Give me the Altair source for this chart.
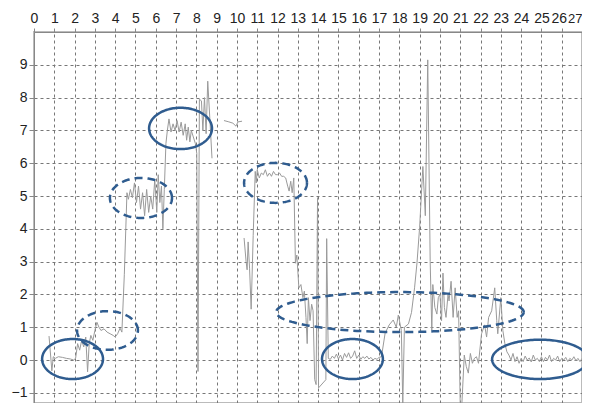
import altair as alt
import pandas as pd
import numpy as np

# ---- signal (x, y) ----
seg_a = [(0.74, 0.73), (0.88, -0.33), (0.95, 0.1), (1.05, 0.05), (1.2, 0.1), (1.4, 0.08),
         (1.6, 0.05), (1.8, 0.03), (1.95, 0.0), (2.05, 0.05), (2.15, 0.5), (2.25, 0.3),
         (2.35, 0.6), (2.45, 0.4), (2.55, 0.7), (2.64, -0.36), (2.72, 0.5), (2.8, 0.75),
         (2.9, 0.6), (3.0, 0.9), (3.1, 1.15), (3.2, 1.0), (3.3, 0.9), (3.45, 0.95),
         (3.6, 0.85), (3.75, 0.8), (3.9, 0.75), (4.0, 0.7), (4.12, 0.8), (4.24, 0.97),
         (4.33, 0.85), (4.45, 2.6), (4.58, 5.1), (4.65, 4.9), (4.75, 5.2), (4.85, 4.95),
         (4.95, 5.4), (5.05, 4.8), (5.15, 5.3), (5.25, 4.6), (5.35, 5.1), (5.45, 4.4),
         (5.55, 5.2), (5.65, 4.5), (5.75, 5.0), (5.85, 4.6), (5.95, 5.5), (6.05, 4.5),
         (6.12, 5.65), (6.2, 4.8), (6.28, 5.3), (6.35, 4.0), (6.42, 5.2), (6.5, 6.6),
         (6.57, 7.0), (6.65, 7.35), (6.75, 6.95), (6.85, 7.2), (6.95, 7.0), (7.05, 7.3),
         (7.15, 6.95), (7.25, 7.25), (7.35, 6.85), (7.45, 7.2), (7.52, 6.7), (7.6, 7.1),
         (7.68, 6.65), (7.75, 7.0), (7.85, 6.8), (7.95, 6.6), (8.02, 6.3), (8.08, -0.35),
         (8.15, 7.95), (8.25, 7.9), (8.32, 7.0), (8.4, 8.0), (8.48, 6.9), (8.56, 8.5),
         (8.65, 7.5), (8.77, 6.15)]

seg_b = [(9.36, 7.3), (9.6, 7.26), (9.8, 7.22), (9.95, 7.13), (10.05, 7.26), (10.25, 7.28)]

seg_c = [(10.35, 3.72), (10.45, 3.0), (10.5, 2.75), (10.55, 3.6), (10.62, 2.8), (10.7, 1.55),
         (10.8, 3.8), (10.9, 5.75), (10.95, 5.4), (11.0, 5.8), (11.1, 5.55), (11.2, 5.7),
         (11.3, 5.65), (11.4, 5.8), (11.5, 5.6), (11.6, 5.7), (11.7, 5.6), (11.8, 5.75),
         (11.9, 5.65), (12.0, 5.65), (12.1, 5.7), (12.2, 5.6), (12.3, 5.6), (12.4, 5.55),
         (12.5, 5.3), (12.57, 5.15), (12.65, 5.45), (12.72, 5.1), (12.8, 5.55), (12.88, 2.95),
         (12.95, 3.2), (13.05, 2.2), (13.15, 2.3), (13.25, 1.9), (13.32, 2.1), (13.4, 1.3),
         (13.46, 0.5), (13.52, 1.9), (13.6, 1.2), (13.68, 1.7), (13.75, 1.5), (13.83, -0.6),
         (13.9, -0.75), (13.97, 4.95), (14.02, -0.85), (14.38, -0.6), (14.42, 3.7), (14.5, 0.05),
         (14.6, 0.02), (14.7, 0.12), (14.8, 0.05), (14.9, 0.18), (15.0, 0.03), (15.1, 0.15),
         (15.2, 0.0), (15.3, 0.2), (15.4, 0.08), (15.5, 0.22), (15.6, 0.05), (15.7, 0.12),
         (15.8, 0.28), (15.9, 0.05), (16.0, 0.15), (16.1, 0.02), (16.2, 0.1), (16.3, 0.05),
         (16.4, 0.12), (16.5, 0.03), (16.6, 0.08), (16.7, 0.0), (16.8, 0.05), (16.9, 0.02),
         (17.0, 0.08), (17.12, 0.1), (17.3, 0.82), (17.5, 1.07), (17.7, 1.22), (17.85, 1.0),
         (17.95, 1.37), (18.1, 0.9), (18.17, -1.35), (18.25, 1.0), (18.45, 1.1), (18.6, 1.45),
         (18.75, 2.2), (18.87, 2.96), (19.0, 4.05), (19.16, 5.9), (19.28, 4.4), (19.4, 9.15),
         (19.52, 3.0), (19.6, 0.9), (19.65, 2.3), (19.75, 1.6), (19.85, 1.4), (19.92, 1.9),
         (20.0, 2.0), (20.08, 1.2), (20.15, 2.65), (20.22, 1.6), (20.3, 1.3), (20.4, 2.0),
         (20.45, 1.8), (20.55, 2.4), (20.65, 1.3), (20.75, 2.2), (20.85, 1.3), (20.92, 1.5),
         (21.0, -1.35), (21.08, -1.35), (21.2, 0.15), (21.3, -0.2), (21.4, -0.4), (21.5, 0.2),
         (21.6, -0.1), (21.7, 0.05), (21.8, 0.1), (21.9, -0.1), (22.05, 0.8), (22.2, 1.07),
         (22.3, 0.7), (22.4, 1.3), (22.55, 1.5), (22.7, 2.2), (22.8, 1.2), (22.85, 0.8),
         (23.0, 1.9), (23.1, 0.9), (23.2, 0.5), (23.3, 0.25), (23.4, 0.15), (23.5, 0.0),
         (23.6, 0.2), (23.7, -0.05), (23.8, 0.1), (23.9, -0.1), (24.0, 0.05), (24.1, -0.05),
         (24.2, 0.12), (24.3, 0.0), (24.4, 0.06), (24.5, -0.06), (24.6, 0.15), (24.7, 0.0),
         (24.8, 0.05), (24.9, -0.05), (25.0, 0.1), (25.1, -0.05), (25.2, 0.08), (25.3, 0.0),
         (25.4, 0.15), (25.5, -0.05), (25.6, 0.05), (25.7, 0.0), (25.8, 0.12), (25.9, -0.05),
         (26.0, 0.05), (26.1, 0.0), (26.2, 0.08), (26.3, -0.05), (26.4, 0.05), (26.5, 0.0),
         (26.6, 0.1), (26.7, -0.02), (26.8, 0.05), (26.9, -0.05), (27.0, 0.05)]

# ---- annotation ellipses: centre x, centre y, radius x, radius y (data units) ----
solid_ellipses = [(1.9, 0.03, 1.5, 0.61), (7.22, 7.06, 1.55, 0.63),
                  (15.69, 0.03, 1.5, 0.61), (24.93, 0.02, 2.36, 0.6)]
dashed_ellipses = [(3.62, 0.9, 1.5, 0.59), (5.27, 4.94, 1.53, 0.61),
                   (11.9, 5.4, 1.55, 0.61), (18.03, 1.46, 6.1, 0.61)]

x_ticks = list(range(0, 28))
y_ticks = list(range(-1, 10))

rows = []
for name, seg in [("a", seg_a), ("b", seg_b), ("c", seg_c)]:
    for i, (x, y) in enumerate(seg):
        rows.append({"seg": name, "i": i, "x": x, "y": y})
sig = pd.DataFrame(rows)

t = np.linspace(0, 2 * np.pi, 161)
def ell_frame(lst, tag):
    out = []
    for k, (ex, ey, rx, ry) in enumerate(lst):
        for j, tt in enumerate(t):
            out.append({"e": f"{tag}{k}", "j": j,
                        "x": ex + rx * np.cos(tt), "y": ey + ry * np.sin(tt)})
    return pd.DataFrame(out)

solid_df = ell_frame(solid_ellipses, "s")
dashed_df = ell_frame(dashed_ellipses, "d")

FONT = "Liberation Sans"
PX_PER_UNIT = 32.8
PLOT_H = 371
xscale = alt.Scale(domain=[0, 27], nice=False, zero=False)
yscale = alt.Scale(domain=[10 - PLOT_H / PX_PER_UNIT, 10], nice=False, zero=False)

xaxis = alt.Axis(orient="top", values=x_ticks, title=None, labelOverlap=False,
                 labelFlush=False, grid=True, tickSize=4, labelPadding=3,
                 labelFont=FONT,
                 labelFontSize=alt.expr("datum.value == 27 ? 13 : 14"),
                 labelOffset=alt.expr("datum.value == 26 ? -3 : 0"),
                 labelAlign=alt.expr("datum.value == 27 ? 'right' : 'center'"))
yaxis = alt.Axis(orient="left", values=y_ticks, title=None, labelOverlap=False,
                 labelFlush=False, grid=True, tickSize=5, labelPadding=2,
                 labelFontSize=14, labelFont=FONT)

def enc(chart, **kw):
    return chart.encode(
        x=alt.X("x:Q", scale=xscale, axis=xaxis),
        y=alt.Y("y:Q", scale=yscale, axis=yaxis),
        **kw,
    )

line = enc(alt.Chart(sig).mark_line(color="#9a9a9a", strokeWidth=1, clip=True),
           detail="seg:N", order="i:Q")

solid = enc(alt.Chart(solid_df).mark_line(color="#2F5C8F", strokeWidth=2.5),
            detail="e:N", order="j:Q")

dashed = enc(alt.Chart(dashed_df).mark_line(color="#2F5C8F", strokeWidth=2.5,
                                            strokeDash=[8, 5]),
             detail="e:N", order="j:Q")

chart = alt.layer(line, solid, dashed).properties(
    width=548, height=PLOT_H,
    autosize=alt.AutoSizeParams(type="none"),
    padding={"left": 26, "top": 24, "right": 0, "bottom": 0},
).configure_view(
    stroke="#bbbbbb", strokeWidth=2
).configure_axis(
    labelFont=FONT, labelColor="#222222",
    labelOverlap=False, labelFlush=False,
    domainColor="#888888", domainWidth=1, tickColor="#888888",
    gridColor="#777777", gridDash=[3, 3], gridWidth=1, gridOpacity=1,
)

chart.save("out.html", embed_options={"renderer": "svg", "actions": False})
